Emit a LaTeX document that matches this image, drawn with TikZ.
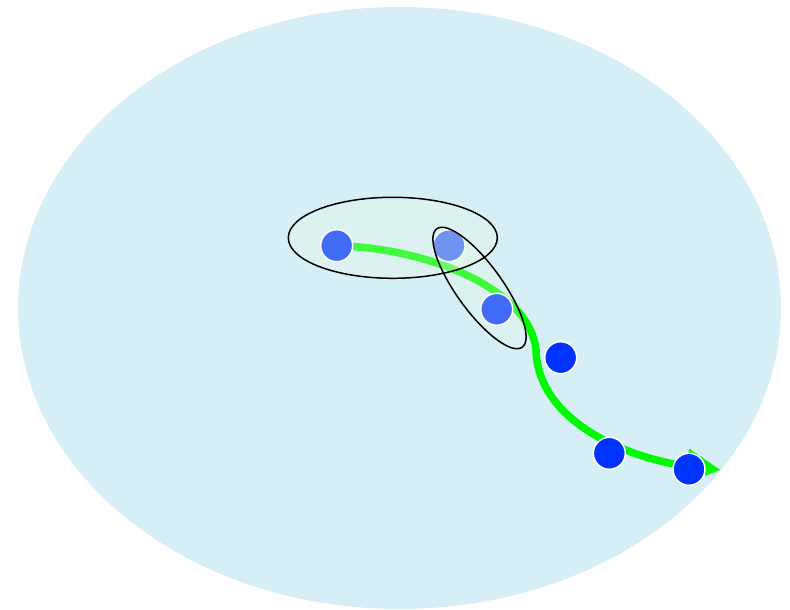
\documentclass[tikz,border=0pt]{standalone}
\usetikzlibrary{arrows.meta}
\pgfdeclarelayer{background}
\pgfsetlayers{background,main}
\definecolor{bgblue}{RGB}{214,239,247}
\definecolor{dotblue}{RGB}{0,51,255}
\definecolor{pathgreen}{RGB}{0,250,0}
\definecolor{groupfill}{RGB}{235,250,225}
\tikzset{
  dot/.style={circle,fill=dotblue,draw=white,line width=1.5pt,minimum size=32pt,inner sep=0pt},
  groupfillstyle/.style={fill=groupfill,fill opacity=0.28},
  groupline/.style={draw=black,line width=1.5pt},
  route/.style={draw=pathgreen,line width=7.5pt,-{Triangle[length=34pt,width=33pt]}}
}
\begin{document}
\begin{tikzpicture}[x=1pt,y=1pt]
\useasboundingbox (0,0) rectangle (790,610);
\coordinate (tip) at (720.7,140);
\node[dot] (n1) at (336.7,364.3) {};
\node[dot] (n2) at (449,364.3) {};
\node[dot] (n3) at (496.7,300.7) {};
\node[dot] (n4) at (560.7,252.3) {};
\node[dot] (n5) at (609.3,156.7) {};
\node[dot] (n6) at (689,140.7) {};
\begin{pgfonlayer}{background}
\fill[bgblue] (399.5,302) ellipse [x radius=381.5,y radius=301];
\draw[route] (n1.center) .. controls (430,362) and (530,320) .. (536,260)
  .. controls (538,185) and (635,150) .. (tip);
\end{pgfonlayer}
\path[groupfillstyle] (392.8,372.2) ellipse [x radius=104.5,y radius=40.5];
\path[groupfillstyle] (479.5,322) ellipse [x radius=73,y radius=23,rotate=-54.2];
\draw[groupline] (392.8,372.2) ellipse [x radius=104.5,y radius=40.5];
\draw[groupline] (479.5,322) ellipse [x radius=73,y radius=23,rotate=-54.2];
\end{tikzpicture}
\end{document}
